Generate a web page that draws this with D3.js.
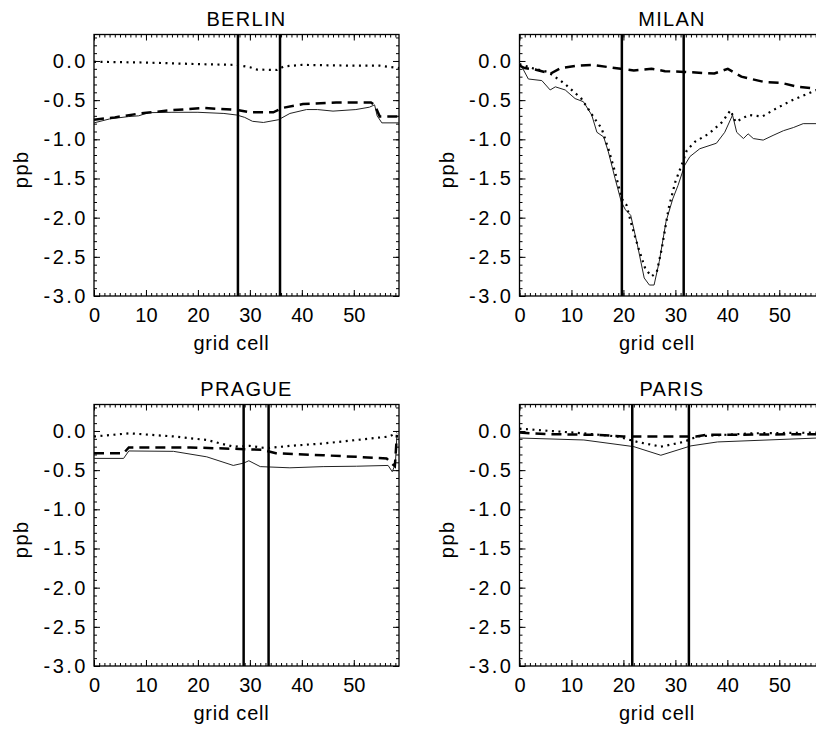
<!DOCTYPE html>
<html>
<head>
<meta charset="utf-8">
<script src="https://cdn.jsdelivr.net/npm/d3@7"></script>
<style>
  body { margin: 0; background: #fff; }
  svg { display: block; overflow: hidden; }
  text { font-family: "Liberation Sans", Helvetica, Arial, sans-serif; fill: #000; }
</style>
</head>
<body>
<div id="chart"></div>
<script>
// values, as [grid cell, ppb]
const cityNames = ["BERLIN", "MILAN", "PRAGUE", "PARIS"];

const berlinSolid = [[0,-0.79],[3,-0.74],[6.6,-0.71],[8.6,-0.70],[10.5,-0.66],[15,-0.655],[20,-0.655],[25,-0.67],[27.5,-0.69],[29,-0.72],[30.5,-0.77],[32.6,-0.785],[35.5,-0.75],[37.7,-0.67],[40.9,-0.62],[43,-0.62],[46,-0.64],[50.4,-0.62],[53,-0.59],[54,-0.56],[54.5,-0.70],[55.4,-0.79],[58.7,-0.79]];
const berlinDashed = [[0,-0.75],[4,-0.72],[8.8,-0.67],[14.6,-0.63],[21,-0.60],[27.5,-0.625],[30,-0.655],[34.5,-0.655],[36.2,-0.60],[40.2,-0.55],[46.6,-0.53],[53.3,-0.53],[54,-0.56],[55,-0.71],[58.7,-0.71]];
const berlinDotted = [[0,-0.01],[10,-0.02],[20,-0.04],[27.5,-0.05],[30,-0.08],[31.4,-0.11],[35.2,-0.115],[36.5,-0.07],[40,-0.05],[45,-0.055],[50,-0.06],[55,-0.06],[58.7,-0.09]];
const berlinMarks = [27.7, 35.8];

const milanSolid = [[0,-0.03],[0.5,-0.08],[1.7,-0.23],[4.3,-0.25],[5.9,-0.37],[6.9,-0.33],[8.8,-0.37],[10.7,-0.48],[12.3,-0.52],[13.9,-0.69],[14.9,-0.91],[16.2,-0.97],[17.1,-1.16],[18.4,-1.5],[19.6,-1.80],[20.4,-1.9],[21.4,-1.97],[22.7,-2.35],[24,-2.77],[25,-2.86],[25.9,-2.86],[26.9,-2.56],[28.2,-2.05],[29.5,-1.76],[30.5,-1.59],[31.8,-1.33],[32.8,-1.22],[34.7,-1.12],[37.9,-1.05],[39.5,-0.91],[41,-0.69],[41.8,-0.91],[43.1,-0.99],[44,-0.93],[45,-0.99],[46.9,-1.01],[48.8,-0.95],[50.8,-0.89],[52.7,-0.85],[54.6,-0.80],[58.7,-0.80]];
const milanDashed = [[0,-0.06],[1,-0.09],[3,-0.11],[6,-0.16],[8,-0.09],[11,-0.06],[14,-0.05],[19.5,-0.10],[22,-0.12],[25.4,-0.10],[28,-0.13],[31.7,-0.14],[37.5,-0.16],[40.1,-0.10],[42.7,-0.20],[47.2,-0.27],[50.4,-0.28],[53.6,-0.33],[56.8,-0.35],[58.7,-0.38]];
const milanDotted = [[0,-0.04],[2.9,-0.10],[5.5,-0.14],[8.7,-0.29],[11.9,-0.48],[14.5,-0.74],[15.8,-0.86],[17.1,-1.12],[18.4,-1.42],[19.7,-1.76],[20.6,-1.84],[21.6,-2.1],[22.9,-2.39],[24.2,-2.65],[25.4,-2.75],[26.4,-2.70],[27.4,-2.39],[28.7,-1.88],[30,-1.54],[31.2,-1.33],[32.2,-1.14],[33.8,-1.03],[36.4,-0.93],[39,-0.78],[40.6,-0.63],[41.6,-0.78],[44.1,-0.69],[46.7,-0.71],[49.3,-0.61],[52.5,-0.50],[56.8,-0.38],[58.7,-0.33]];
const milanMarks = [19.7, 31.6];

const pragueSolid = [[0,-0.35],[5.7,-0.35],[6.7,-0.255],[15.3,-0.26],[21.7,-0.33],[26.8,-0.44],[28.8,-0.41],[29.8,-0.38],[32,-0.455],[37.7,-0.47],[44.1,-0.455],[50.5,-0.45],[56.6,-0.44],[57.4,-0.52],[58,-0.42],[58.3,-0.05]];
const pragueDashed = [[0,-0.285],[5.7,-0.285],[6.7,-0.21],[18.5,-0.21],[28,-0.23],[32.5,-0.24],[35,-0.285],[44.1,-0.31],[50.5,-0.33],[56.3,-0.35],[57.2,-0.41],[57.9,-0.45],[58.3,-0.05]];
const pragueDotted = [[0,-0.07],[6.9,-0.03],[15.3,-0.07],[21.7,-0.115],[26.8,-0.20],[30,-0.19],[33.2,-0.22],[37.7,-0.19],[44.1,-0.16],[50.5,-0.115],[56.9,-0.07],[58.3,-0.02]];
const pragueMarks = [28.8, 33.6];

const parisSolid = [[0,-0.09],[12.4,-0.115],[22,-0.20],[27.2,-0.31],[33,-0.19],[38.1,-0.14],[57.3,-0.09],[58.7,-0.09]];
const parisDashed = [[0,-0.02],[5,-0.04],[15,-0.05],[20,-0.07],[34,-0.07],[36,-0.05],[58.7,-0.04]];
const parisDotted = [[0,0.03],[6,0.0],[12.4,-0.03],[18.8,-0.07],[22.7,-0.14],[27.2,-0.20],[31.6,-0.14],[34.2,-0.07],[44.5,-0.03],[58.7,-0.02]];
const parisMarks = [21.7, 32.6];

const xMajorTicks = [0, 10, 20, 30, 40, 50];
const yMajorTicks = [0.0, -0.5, -1.0, -1.5, -2.0, -2.5, -3.0];
const xDomain = [0, 58.7];
const yDomain = [-3.0, 0.338];

const panelData = [
  {solid: berlinSolid, dashed: berlinDashed, dotted: berlinDotted, marks: berlinMarks},
  {solid: milanSolid, dashed: milanDashed, dotted: milanDotted, marks: milanMarks},
  {solid: pragueSolid, dashed: pragueDashed, dotted: pragueDotted, marks: pragueMarks},
  {solid: parisSolid, dashed: parisDashed, dotted: parisDotted, marks: parisMarks}
];

// layout
const width = 816, height = 732;
const plotW = 305, plotH = 261.5;
const lefts = [94, 519.5, 94, 519.5];
const tops = [34.5, 34.5, 404.5, 404.5];
const fontSize = "20px";

const svg = d3.select("#chart").append("svg")
    .attr("width", width)
    .attr("height", height);

for (let p = 0; p < 4; p++) {
    let left = lefts[p], top = tops[p];
    let bottom = top + plotH, right = left + plotW;
    let d = panelData[p];

    let x = d3.scaleLinear().domain(xDomain).range([left, right]);
    let y = d3.scaleLinear().domain(yDomain).range([bottom, top]);
    let g = svg.append("g");

    // minor ticks
    let xMinor = d3.range(0, 59, 1);
    let yMinor = d3.range(-30, 4, 1).map(v => v / 10);
    g.append("g").attr("transform", "translate(0," + bottom + ")")
        .call(d3.axisBottom(x).tickValues(xMinor).tickSize(-3).tickFormat(""));
    g.append("g").attr("transform", "translate(0," + top + ")")
        .call(d3.axisTop(x).tickValues(xMinor).tickSize(-3).tickFormat(""));
    g.append("g").attr("transform", "translate(" + left + ",0)")
        .call(d3.axisLeft(y).tickValues(yMinor).tickSize(-3).tickFormat(""));
    g.append("g").attr("transform", "translate(" + right + ",0)")
        .call(d3.axisRight(y).tickValues(yMinor).tickSize(-3).tickFormat(""));

    // major ticks with labels
    g.append("g").attr("class", "xaxis").attr("transform", "translate(0," + bottom + ")")
        .call(d3.axisBottom(x).tickValues(xMajorTicks).tickSize(-6).tickPadding(12).tickFormat(d3.format("d")));
    g.append("g").attr("transform", "translate(0," + top + ")")
        .call(d3.axisTop(x).tickValues(xMajorTicks).tickSize(-6).tickFormat(""));
    g.append("g").attr("class", "yaxis").attr("transform", "translate(" + left + ",0)")
        .call(d3.axisLeft(y).tickValues(yMajorTicks).tickSize(-6).tickPadding(6).tickFormat(d3.format(".1f")));
    g.append("g").attr("transform", "translate(" + right + ",0)")
        .call(d3.axisRight(y).tickValues(yMajorTicks).tickSize(-6).tickFormat(""));

    g.selectAll(".domain").remove();
    g.selectAll(".tick line").attr("stroke", "#000").attr("stroke-width", 1);
    g.selectAll(".tick text")
        .style("font-size", fontSize)
        .style("font-family", "'Liberation Sans', Helvetica, Arial, sans-serif")
        .attr("fill", "#000");
    g.selectAll(".yaxis .tick text")
        .style("letter-spacing", "2.5px")
        .text(t => d3.format(".1f")(t).replace("\u2212", "-"));

    // frame
    g.append("rect")
        .attr("x", left).attr("y", top)
        .attr("width", plotW).attr("height", plotH)
        .attr("fill", "none").attr("stroke", "#000").attr("stroke-width", 1.3);

    // series
    let line = d3.line().x(v => x(v[0])).y(v => y(v[1]));
    g.append("path").datum(d.solid).attr("d", line)
        .attr("fill", "none").attr("stroke", "#222").attr("stroke-width", 1);
    g.append("path").datum(d.dashed).attr("d", line)
        .attr("fill", "none").attr("stroke", "#000").attr("stroke-width", 2.5)
        .attr("stroke-dasharray", "10,6");
    g.append("path").datum(d.dotted).attr("d", line)
        .attr("fill", "none").attr("stroke", "#000").attr("stroke-width", 2.2)
        .attr("stroke-dasharray", "2,4.5");

    // vertical marker lines
    g.selectAll(".mark").data(d.marks).enter().append("line")
        .attr("x1", m => x(m)).attr("x2", m => x(m))
        .attr("y1", top).attr("y2", bottom)
        .attr("stroke", "#000").attr("stroke-width", 2.5);

    // texts
    g.append("text")
        .attr("x", left + plotW / 2).attr("y", top - 8.5)
        .attr("text-anchor", "middle").style("font-size", fontSize)
        .style("letter-spacing", "1.3px")
        .text(cityNames[p]);
    g.append("text")
        .attr("x", left + plotW / 2 - 15).attr("y", bottom + 54)
        .attr("text-anchor", "middle").style("font-size", fontSize)
        .style("letter-spacing", "0.8px")
        .text("grid cell");
    g.append("text")
        .attr("transform", "translate(" + (left - 66) + "," + (top + plotH / 2 + 4) + ") rotate(-90)")
        .attr("text-anchor", "middle").style("font-size", fontSize)
        .style("letter-spacing", "1.5px")
        .text("ppb");
}
</script>
</body>
</html>
